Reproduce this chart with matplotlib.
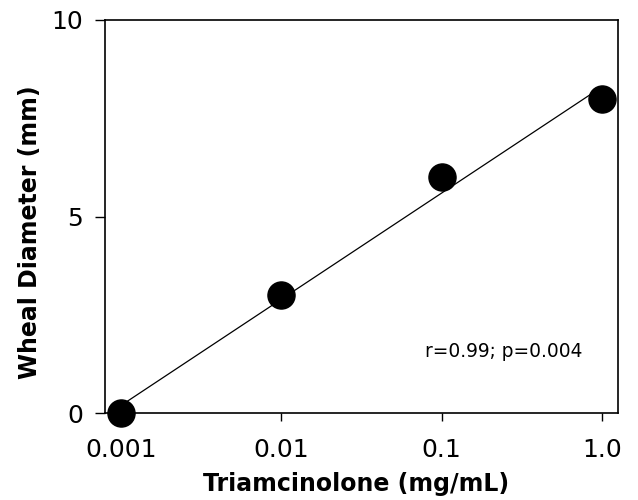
import numpy as np
import matplotlib.pyplot as plt
from matplotlib.ticker import FixedLocator, FixedFormatter, NullLocator

# Data
conc = [0.001, 0.01, 0.1, 1.0]          # mg/mL
wheal = [0.0, 3.0, 6.0, 8.0]            # mm
xtick_vals = [0.001, 0.01, 0.1, 1.0]
xtick_labels = ['0.001', '0.01', '0.1', '1.0']
ytick_vals = [0, 5, 10]
stat_text = 'r=0.99; p=0.004'

plt.rcParams['font.family'] = ['DejaVu Sans']

fig = plt.figure(figsize=(6.38, 5.0), dpi=100)
ax = fig.add_axes([105 / 638, 1 - 413.3 / 500, (618 - 105) / 638, (413.3 - 20) / 500])

# regression of wheal diameter on log10(concentration)
logx = np.log10(conc)
slope, intercept = np.polyfit(logx, wheal, 1)
x_fit = np.array([conc[0], conc[-1]])
ax.plot(x_fit, slope * np.log10(x_fit) + intercept, color='black', lw=0.9, zorder=2)

ax.plot(conc, wheal, 'o', color='black', markersize=19.5, clip_on=False, zorder=3)

ax.set_xscale('log')
ax.set_xlim(10 ** -3.1, 10 ** 0.1)
ax.set_ylim(0, 10)
ax.xaxis.set_major_locator(FixedLocator(xtick_vals))
ax.xaxis.set_major_formatter(FixedFormatter(xtick_labels))
ax.xaxis.set_minor_locator(NullLocator())
ax.set_yticks(ytick_vals)

ax.tick_params(axis='x', direction='out', length=6, width=1, pad=12, labelsize=18)
ax.tick_params(axis='y', direction='out', length=7, width=1, pad=9, labelsize=18)
for s in ax.spines.values():
    s.set_linewidth(1.2)

ax.set_xlabel('Triamcinolone (mg/mL)', fontsize=17, fontweight='bold')
ax.set_ylabel('Wheal Diameter (mm)', fontsize=17, fontweight='bold')
ax.xaxis.set_label_coords(0.49, -0.15)
ax.yaxis.set_label_coords(-0.123, 0.46)

ax.text(0.624, 0.1425, stat_text, transform=ax.transAxes, fontsize=13.4,
        ha='left', va='baseline')

fig.savefig('out.png', dpi=100)
plt.close(fig)
